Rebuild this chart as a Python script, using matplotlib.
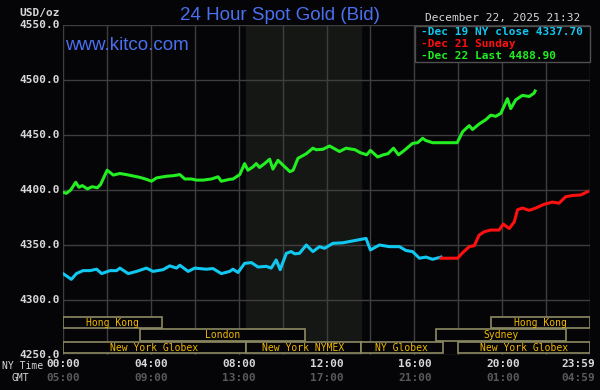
import matplotlib
matplotlib.use("Agg")
import matplotlib.pyplot as plt
from matplotlib.patches import Rectangle

# hours since 00:00 NY time, prices
green_t = [0.0, 0.15, 0.35, 0.58, 0.73, 0.88, 1.11, 1.33, 1.56, 1.71, 2.01, 2.29, 2.59, 2.89, 3.2, 3.5,
           3.8, 4.03, 4.26, 4.71, 5.02, 5.32, 5.55, 5.85, 6.08, 6.38, 6.76, 7.06, 7.21, 7.59, 7.74,
           8.05, 8.27, 8.42, 8.65, 8.8, 8.95, 9.18, 9.41, 9.56, 9.79, 10.02, 10.33, 10.48, 10.7,
           11.08, 11.38, 11.53, 11.83, 12.14, 12.59, 12.89, 13.3, 13.53, 13.83, 14.0, 14.33, 14.59,
           14.8, 15.05, 15.28, 15.58, 15.92, 16.15, 16.38, 16.52, 16.83, 17.27, 17.95, 18.2, 18.5,
           18.65, 18.95, 19.26, 19.48, 19.71, 19.94, 20.24, 20.39, 20.62, 20.92, 21.23, 21.45, 21.5]
green_p = [4398, 4397, 4400, 4407, 4402.5, 4404, 4401, 4403, 4402, 4405, 4418, 4413.6, 4415, 4414,
           4412.7, 4411.5, 4409.7, 4408, 4411, 4412.5, 4413, 4414, 4410, 4410, 4409, 4409, 4410,
           4412, 4408, 4409.7, 4410, 4414, 4424, 4418, 4421, 4424, 4420.5, 4424, 4428, 4419, 4427,
           4422.6, 4416.7, 4418, 4428.8, 4433, 4438, 4436.6, 4437, 4440, 4435, 4438, 4436.6, 4434,
           4432, 4436, 4430, 4432, 4433, 4438, 4432, 4436.6, 4442.4, 4443, 4447, 4445, 4443, 4443,
           4443, 4453, 4458.5, 4455, 4460, 4464, 4468, 4467, 4469.7, 4483, 4474, 4482, 4486, 4485,
           4488, 4490]

cyan_t = [0.0, 0.15, 0.38, 0.61, 0.91, 1.23, 1.53, 1.76, 2.14, 2.44, 2.59, 2.97, 3.35, 3.8, 4.1,
          4.56, 4.86, 5.17, 5.32, 5.7, 6.0, 6.53, 6.83, 7.21, 7.59, 7.74, 7.97, 8.27, 8.58, 8.88,
          9.26, 9.48, 9.71, 9.89, 10.17, 10.39, 10.55, 10.77, 11.08, 11.38, 11.68, 11.91, 12.29,
          12.74, 13.17, 13.8, 14.0, 14.41, 14.86, 15.32, 15.62, 15.92, 16.23, 16.53, 16.83, 17.21]
cyan_p = [4324, 4322, 4318.8, 4324, 4326.7, 4326.7, 4328, 4324, 4326.7, 4326.7, 4329, 4324, 4326,
          4329, 4326, 4327.6, 4331, 4329, 4331.6, 4326, 4329, 4328, 4328.6, 4324, 4326, 4328, 4325,
          4333.3, 4334, 4330, 4330.6, 4329, 4336.4, 4327.6, 4342.4, 4344, 4342, 4342.4, 4350, 4344,
          4348.5, 4347, 4351.5, 4352, 4353.6, 4356, 4345.5, 4350, 4348.5, 4348.5, 4345, 4344, 4338,
          4339, 4337, 4339]

red_t = [17.21, 17.97, 18.2, 18.5, 18.73, 18.95, 19.18, 19.48, 19.86, 20.05, 20.32, 20.55, 20.7,
         20.92, 21.23, 21.53, 21.91, 22.29, 22.59, 22.89, 23.2, 23.58, 23.89]
red_p = [4338, 4338, 4343, 4348.5, 4349.4, 4359, 4362, 4363.6, 4363.6, 4369, 4365, 4371, 4382,
         4383.6, 4381.5, 4383.6, 4387, 4389, 4388, 4393.9, 4395, 4395.5, 4398.5]

legend_labels = ["Dec 19 NY close 4337.70", "Dec 21 Sunday", "Dec 22 Last 4488.90"]
legend_colors = ["#10c8f0", "#ff1010", "#22ee22"]

price_ticks = [4250, 4300, 4350, 4400, 4450, 4500, 4550]
ny_ticks = [0, 4, 8, 12, 16, 20, 23.983]
ny_labels = ["00:00", "04:00", "08:00", "12:00", "16:00", "20:00", "23:59"]
gmt_labels = ["05:00", "09:00", "13:00", "17:00", "21:00", "01:00", "04:59"]

# sessions: (row, start hour, end hour, label)
sessions = [
    (0, 0.0, 4.5, "Hong Kong"), (0, 19.5, 24.0, "Hong Kong"),
    (1, 3.5, 11.0, "London"), (1, 17.0, 22.9, "Sydney"),
    (2, 0.0, 8.32, "New York Globex"), (2, 8.32, 13.55, "New York NYMEX"),
    (2, 13.55, 17.3, "NY Globex"), (2, 18.0, 24.0, "New York Globex"),
]
row_y = [(4274.5, 4284.5), (4262.7, 4273.6), (4251.8, 4261.8)]

BG = "#050407"
mono = "DejaVu Sans Mono"

fig = plt.figure(figsize=(6, 3.9), dpi=100, facecolor=BG)
ax = fig.add_axes([63 / 600, 1 - 355 / 390, 527 / 600, 330 / 390], facecolor=BG)
ax.set_xlim(0, 24)
ax.set_ylim(4250, 4550)

ax.axvspan(8.32, 13.55, color="#151715", zorder=0)
for h in range(0, 25, 2):
    ax.axvline(h, color="#3e3e3e", lw=1, zorder=1)
for p in price_ticks:
    ax.axhline(p, color="#3e3e3e", lw=1, zorder=1)

ax.plot(cyan_t, cyan_p, color=legend_colors[0], lw=2.2, zorder=3)
ax.plot(red_t, red_p, color=legend_colors[1], lw=2.2, zorder=3)
ax.plot(green_t, green_p, color=legend_colors[2], lw=2.2, zorder=3)

for row, a, b, name in sessions:
    y0, y1 = row_y[row]
    ax.add_patch(Rectangle((a, y0), b - a, y1 - y0, facecolor=BG, edgecolor="#8c8a62",
                           lw=1.2, zorder=4))
    ax.text((a + b) / 2, (y0 + y1) / 2, name, color="#f0b800", fontsize=7, family=mono,
            ha="center", va="center", zorder=5)

for s in ax.spines.values():
    s.set_visible(False)
ax.set_xticks([])
ax.set_yticks([])

# price labels
for p in price_ticks:
    ax.text(-0.15, p, f"{p:.1f}", color="#d8d8d8", fontsize=8, family=mono, weight="bold",
            ha="right", va="center", transform=ax.transData, clip_on=False)

# time labels (last one pulled left so it stays inside the picture)
for t, ny, gmt in zip(ny_ticks, ny_labels, gmt_labels):
    x = min(63 + t * 22, 578)
    fig.text(x / 600, 1 - 364 / 390, ny, color="#d8d8d8", fontsize=8, family=mono,
             weight="bold", ha="center", va="center")
    fig.text(x / 600, 1 - 378 / 390, gmt, color="#5a5a5a", fontsize=8, family=mono,
             weight="bold", ha="center", va="center")
fig.text(2 / 600, 1 - 366 / 390, "NY Time", color="#d8d8d8", fontsize=7, family=mono,
         ha="left", va="center")
fig.text(11 / 600, 1 - 378 / 390, "GMT", color="#d8d8d8", fontsize=7, family=mono,
         ha="left", va="center")

fig.text(40 / 600, 1 - 13 / 390, "USD/oz", color="#d8d8d8", fontsize=8, family=mono,
         weight="bold", ha="center", va="center")
fig.text(280 / 600, 1 - 15 / 390, "24 Hour Spot Gold (Bid)", color="#4a70f0", fontsize=13.5,
         family="Liberation Sans", ha="center", va="center")
fig.text(65 / 600, 1 - 46 / 390, "www.kitco.com", color="#4a70f0", fontsize=13.5,
         family="Liberation Sans", ha="left", va="center")
fig.text(580 / 600, 1 - 18 / 390, "December 22, 2025 21:32", color="#d8d8d8", fontsize=8,
         family=mono, ha="right", va="center")

# legend box
fig.patches.append(Rectangle((415 / 600, 1 - 62 / 390), 175 / 600, 36 / 390,
                             transform=fig.transFigure, facecolor=BG, edgecolor="#505050",
                             lw=1, zorder=6))
for i, (lab, col) in enumerate(zip(legend_labels, legend_colors)):
    fig.text(421 / 600, 1 - (32 + i * 12) / 390, "-" + lab, color=col, fontsize=8,
             family=mono, weight="bold", ha="left", va="center", zorder=7)

fig.savefig("out.png", facecolor=BG)
